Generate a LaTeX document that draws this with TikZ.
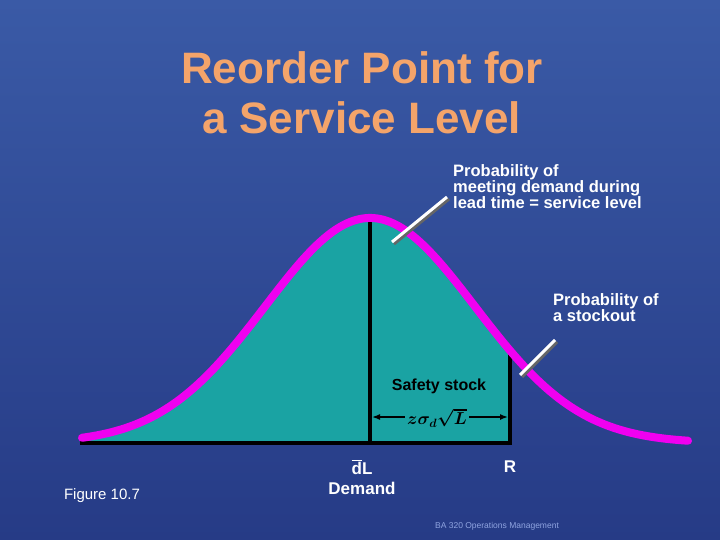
\documentclass[tikz,border=0pt]{standalone}
\usepackage{amsmath}
\usepackage{fontspec}
\setmainfont{Liberation Sans}
\usetikzlibrary{arrows.meta}
\definecolor{bgtop}{HTML}{3A5AA6}
\definecolor{bgbot}{HTML}{263B86}
\definecolor{teal1}{HTML}{1AA3A3}
\definecolor{mag}{HTML}{F000F0}
\definecolor{ttl}{HTML}{F4A46A}
\definecolor{foot}{HTML}{8FA4E0}
\tikzset{
  wlab/.style={text=white,font=\bfseries\fontsize{16.5}{16}\selectfont,align=left,anchor=north west,inner sep=0},
  ptr/.style={white,line width=3pt},
  ttl/.style={text=ttl,font=\bfseries\fontsize{44}{50}\selectfont,inner sep=0,align=center},
}
\begin{document}
\begin{tikzpicture}[x=1pt,y=-1pt]
\shade[top color=bgtop,bottom color=bgbot] (0,0) rectangle (720,540);
\useasboundingbox (0,0) rectangle (720,540);
% title
\node[ttl] (t1) at (362,93) {Reorder Point for\\a Service Level};
% fill
\fill[teal1] (80,443) -- plot[domain=80:510,samples=120] (\x,{443-225*exp(-((\x-370)/105)^2/2)}) -- (510,443) -- cycle;
\draw[line width=3.5pt] (80,443) -- (511,443);
\draw[line width=3.5pt] (370,443) -- (370,{443-225}) ;
\draw[line width=3.5pt] (510,445) -- (510,{443-225*exp(-((510-370)/105)^2/2)});
\draw[mag,line width=8pt,line cap=round] plot[domain=82:688,samples=200] (\x,{443-225*exp(-((\x-370)/105)^2/2)});
% arrow
\coordinate (aL) at (372,417);
\coordinate (aR) at (508,417);
\draw[-{Latex[length=8pt]},line width=1.5pt] (440,417) -- (aL);
\draw[-{Latex[length=8pt]},line width=1.5pt] (440,417) -- (aR);
\node[fill=teal1,inner sep=2pt,font=\fontsize{17}{17}\selectfont] (zs) at (437,418) {$\boldsymbol{z\sigma_d\sqrt{L}}$};
\node[font=\bfseries\fontsize{16}{16}\selectfont] (ss) at (439,386) {Safety stock};
% pointers
\draw[black!60,line width=3pt] (394,244) -- (449,199);
\draw[ptr] (392,242) -- (447,197);
\draw[black!60,line width=3pt] (522,377) -- (557,342);
\draw[ptr] (520,375) -- (555,340);
\node[wlab] (p1) at (453,164) {Probability of\\meeting demand during\\lead time = service level};
\node[wlab] (p2) at (553,293) {Probability of\\a stockout};
% bottom labels
\node[text=white,font=\bfseries\fontsize{17}{17}\selectfont] (dl) at (362,467) {$\overline{\text{d}}$L};
\node[text=white,font=\bfseries\fontsize{17}{17}\selectfont] (dem) at (362,488) {Demand};
\node[text=white,font=\bfseries\fontsize{17}{17}\selectfont] (r) at (510,467) {R};
\node[text=white,font=\fontsize{15}{15}\selectfont] (fig) at (102,496) {Figure 10.7};
\node[text=foot,font=\fontsize{8.5}{9}\selectfont] (ft) at (497,526) {BA 320 Operations Management};
\end{tikzpicture}
\end{document}
